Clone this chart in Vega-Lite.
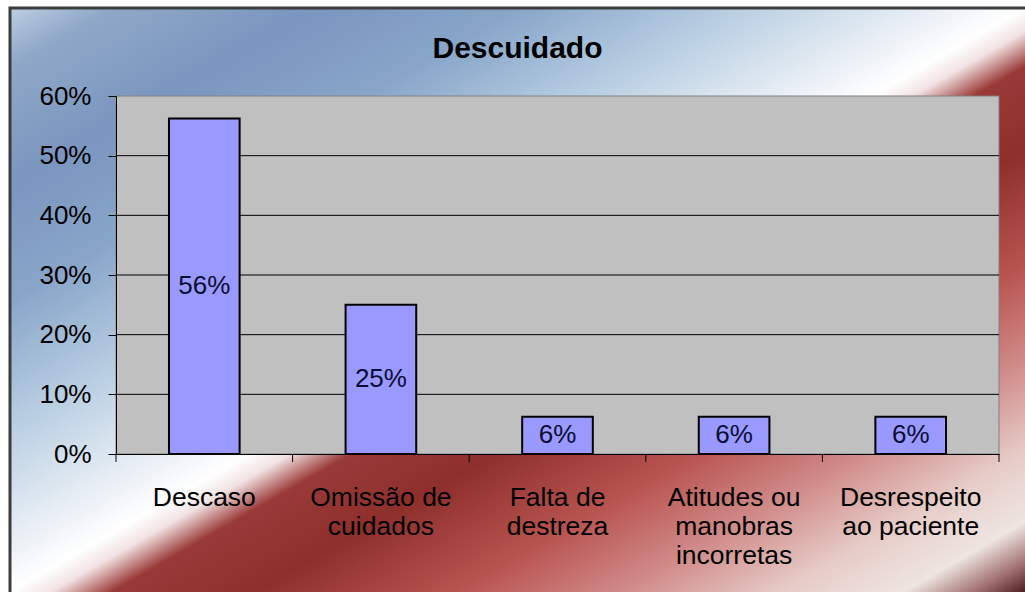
{
  "$schema": "https://vega.github.io/schema/vega-lite/v6.json",
  "width": 1015,
  "height": 584,
  "autosize": {"type": "none"},
  "padding": {"left": 10, "top": 8, "right": 0, "bottom": 0},
  "background": "white",
  "config": {"view": {"stroke": null}, "font": "Liberation Sans"},
  "title": {
    "text": "Descuidado",
    "font": "Liberation Sans",
    "fontSize": 30,
    "fontWeight": "bold",
    "color": "#000000",
    "anchor": "middle",
    "frame": "group",
    "baseline": "alphabetic",
    "offset": -81
  },
  "data": {
    "values": [
      {"categoria": "Descaso", "pct": 0.5625},
      {"categoria": "Omissão de cuidados", "pct": 0.25},
      {"categoria": "Falta de destreza", "pct": 0.0625},
      {"categoria": "Atitudes ou manobras incorretas", "pct": 0.0625},
      {"categoria": "Desrespeito ao paciente", "pct": 0.0625}
    ]
  },
  "layer": [
    {
      "data": {"values": [{}]},
      "mark": {
        "type": "rect",
        "fill": {
          "gradient": "linear",
          "x1": 0, "y1": 0, "x2": 1, "y2": 1,
          "stops": [
            {"offset": 0, "color": "#bccfe2"},
            {"offset": 0.05, "color": "#8fa8c8"},
            {"offset": 0.15, "color": "#7b96bf"},
            {"offset": 0.25, "color": "#88a5c9"},
            {"offset": 0.35, "color": "#b4cbe0"},
            {"offset": 0.45, "color": "#e6edf4"},
            {"offset": 0.5, "color": "#ffffff"},
            {"offset": 0.52, "color": "#f2e2e2"},
            {"offset": 0.55, "color": "#9a3a38"},
            {"offset": 0.62, "color": "#8e2f2c"},
            {"offset": 0.72, "color": "#b85450"},
            {"offset": 0.8, "color": "#d08a88"},
            {"offset": 0.88, "color": "#e6ccc8"},
            {"offset": 0.94, "color": "#efe5e1"},
            {"offset": 0.975, "color": "#a07070"},
            {"offset": 1, "color": "#502020"}
          ]
        },
        "stroke": "#3c3c3c",
        "strokeWidth": 3,
        "strokeDash": [1015, 1599, 584, 2]
      },
      "encoding": {}
    },
    {
      "data": {"values": [{}]},
      "mark": {"type": "rect", "fill": "#c0c0c0", "stroke": "#808080", "strokeWidth": 1},
      "encoding": {
        "x": {"datum": 0, "type": "quantitative", "scale": {"domain": [0, 1], "range": [106, 989], "nice": false, "zero": false}, "axis": null},
        "x2": {"datum": 1},
        "y": {"datum": 0, "type": "quantitative", "scale": {"domain": [0, 0.6], "range": [446, 88], "nice": false}, "axis": null},
        "y2": {"datum": 0.6}
      }
    },
    {
      "data": {"values": [{"g": 0.1}, {"g": 0.2}, {"g": 0.3}, {"g": 0.4}, {"g": 0.5}]},
      "mark": {"type": "rule", "stroke": "#000000", "strokeWidth": 1},
      "encoding": {
        "x": {"datum": 0, "type": "quantitative", "scale": {"domain": [0, 1], "range": [106, 989], "nice": false, "zero": false}, "axis": null},
        "x2": {"datum": 1},
        "y": {"field": "g", "type": "quantitative", "scale": {"domain": [0, 0.6], "range": [446, 88], "nice": false}, "axis": null}
      }
    },
    {
      "data": {"values": [{"t": 0}, {"t": 0.2}, {"t": 0.4}, {"t": 0.6}, {"t": 0.8}, {"t": 1}]},
      "mark": {"type": "rule", "stroke": "#000000", "strokeWidth": 1},
      "encoding": {
        "x": {"field": "t", "type": "quantitative", "scale": {"domain": [0, 1], "range": [106, 989], "nice": false, "zero": false}, "axis": null},
        "y": {"datum": 0, "type": "quantitative", "scale": {"domain": [0, 0.6], "range": [446, 88], "nice": false, "clamp": false}, "axis": null},
        "y2": {"datum": -0.0134}
      }
    },
    {
      "mark": {"type": "bar", "fill": "#9999ff", "stroke": "#000000", "strokeWidth": 2},
      "encoding": {
        "x": {
          "field": "categoria",
          "type": "nominal",
          "sort": null,
          "scale": {"range": [106, 989], "paddingInner": 0.6, "paddingOuter": 0.3},
          "axis": {
            "title": null,
            "orient": "bottom",
            "offset": -138,
            "zindex": 2,
            "ticks": false,
            "tickSize": 0,
            "domain": true,
            "domainColor": "#000000",
            "domainWidth": 1,
            "labelFont": "Liberation Sans",
            "labelFontSize": 26.5,
            "labelColor": "#000000",
            "labelAngle": 0,
            "labelPadding": 30,
            "labelLineHeight": 29,
            "labelBaseline": "top",
            "labelLimit": 0,
            "labelOverlap": false,
            "labelExpr": "datum.value == 'Omissão de cuidados' ? ['Omissão de', 'cuidados'] : datum.value == 'Falta de destreza' ? ['Falta de', 'destreza'] : datum.value == 'Atitudes ou manobras incorretas' ? ['Atitudes ou', 'manobras', 'incorretas'] : datum.value == 'Desrespeito ao paciente' ? ['Desrespeito', 'ao paciente'] : datum.label"
          }
        },
        "y": {
          "field": "pct",
          "type": "quantitative",
          "scale": {"domain": [0, 0.6], "range": [446, 88], "nice": false},
          "axis": {
            "title": null,
            "orient": "left",
            "offset": -106,
            "zindex": 2,
            "grid": false,
            "values": [0, 0.1, 0.2, 0.3, 0.4, 0.5, 0.6],
            "format": ".0%",
            "domainColor": "#000000",
            "domainWidth": 1,
            "tickColor": "#000000",
            "tickSize": 8,
            "labelFont": "Liberation Sans",
            "labelFontSize": 26,
            "labelColor": "#000000",
            "labelPadding": 17
          }
        }
      }
    },
    {
      "mark": {"type": "text", "font": "Liberation Sans", "fontSize": 26, "color": "#0d0d33", "baseline": "middle"},
      "encoding": {
        "x": {"field": "categoria", "type": "nominal", "sort": null, "scale": {"range": [106, 989], "paddingInner": 0.6, "paddingOuter": 0.3}, "axis": null},
        "y": {"field": "pct", "type": "quantitative", "scale": {"domain": [0, 1.2], "range": [446, 88], "nice": false}, "axis": null},
        "text": {"field": "pct", "type": "quantitative", "format": ".0%"}
      }
    }
  ],
  "resolve": {"scale": {"x": "independent", "y": "independent"}}
}
